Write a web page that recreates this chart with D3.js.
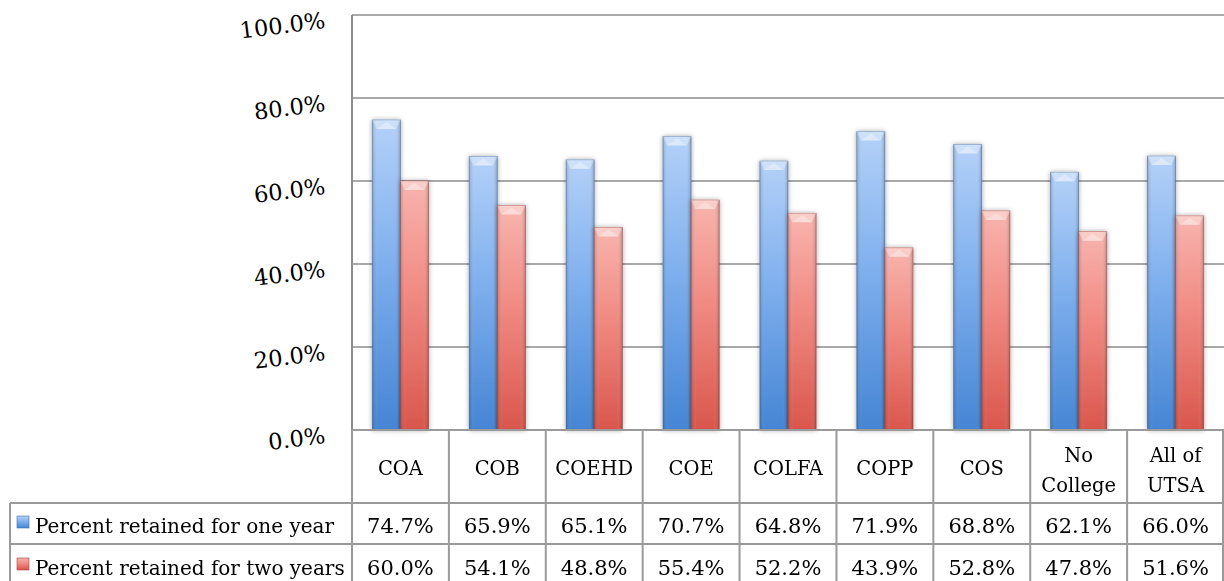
<!DOCTYPE html>
<html><head><meta charset="utf-8">
<script src="https://cdn.jsdelivr.net/npm/d3@7"></script>
<style>body{margin:0;background:#fff}svg{display:block}text{font-family:"DejaVu Serif",serif;fill:#000}</style>
</head><body><svg id="c" width="1224" height="581"></svg>
<script>
const categories = [["COA"],["COB"],["COEHD"],["COE"],["COLFA"],["COPP"],["COS"],["No","College"],["All of","UTSA"]];
const seriesNames = ["Percent retained for one year","Percent retained for two years"];
const oneYear = [74.7,65.9,65.1,70.7,64.8,71.9,68.8,62.1,66.0];
const twoYears = [60.0,54.1,48.8,55.4,52.2,43.9,52.8,47.8,51.6];
const yTicks = [0,20,40,60,80,100];

const svg = d3.select("#c");
const L = 352, R = 1224, T = 15, B = 430;
const x = d3.scaleBand().domain(d3.range(categories.length)).range([L, R]);
const y = d3.scaleLinear().domain([0,100]).range([B, T]);
const inner = d3.scaleBand().domain([0,1]).range([0, x.bandwidth()]).paddingOuter(0.72).paddingInner(0);

const defs = svg.append("defs");
const pal = [
  {id:"gb", top:"#b4d1f8", mid:"#80b0ee", bot:"#4585d4", edge:"#3f6fa8"},
  {id:"gr", top:"#f8b4ae", mid:"#f08a82", bot:"#d9564c", edge:"#a8453d"}
];
pal.forEach(p=>{
  const g = defs.append("linearGradient").attr("id",p.id).attr("x1",0).attr("y1",0).attr("x2",0).attr("y2",1);
  g.append("stop").attr("offset","0%").attr("stop-color",p.top);
  g.append("stop").attr("offset","45%").attr("stop-color",p.mid);
  g.append("stop").attr("offset","100%").attr("stop-color",p.bot);
  const h = defs.append("linearGradient").attr("id",p.id+"h").attr("x1",0).attr("y1",0).attr("x2",1).attr("y2",0);
  h.append("stop").attr("offset","0%").attr("stop-color","#000").attr("stop-opacity",0.18);
  h.append("stop").attr("offset","20%").attr("stop-color","#fff").attr("stop-opacity",0.0);
  h.append("stop").attr("offset","80%").attr("stop-color","#fff").attr("stop-opacity",0.0);
  h.append("stop").attr("offset","100%").attr("stop-color","#000").attr("stop-opacity",0.22);
});
const shadow = defs.append("filter").attr("id","sh").attr("x","-30%").attr("y","-10%").attr("width","160%").attr("height","120%");
shadow.append("feGaussianBlur").attr("in","SourceAlpha").attr("stdDeviation",2.5).attr("result","b");
shadow.append("feOffset").attr("in","b").attr("dx",0).attr("dy",0).attr("result","o");
shadow.append("feComponentTransfer").attr("in","o").attr("result","o2").append("feFuncA").attr("type","linear").attr("slope",0.35);
const m = shadow.append("feMerge"); m.append("feMergeNode").attr("in","o2"); m.append("feMergeNode").attr("in","SourceGraphic");

// gridlines
svg.append("g").selectAll("line").data(yTicks).join("line")
  .attr("x1",L).attr("x2",R).attr("y1",d=>y(d)).attr("y2",d=>y(d))
  .attr("stroke","#8c8c8c").attr("stroke-width",1.5);
svg.append("line").attr("x1",L).attr("x2",L).attr("y1",T).attr("y2",B).attr("stroke","#8c8c8c").attr("stroke-width",2);

// y labels (tilted)
svg.append("g").selectAll("text").data(yTicks).join("text")
  .attr("transform",d=>`translate(${L-26},${y(d)+13}) rotate(-7)`)
  .attr("text-anchor","end").attr("font-size",22.5)
  .text(d=>d3.format(".1f")(d)+"%");

// bars
const series = [oneYear, twoYears];
series.forEach((vals,si)=>{
  const p = pal[si];
  const g = svg.append("g").attr("filter","url(#sh)");
  const bw = inner.bandwidth();
  const bars = g.selectAll("g").data(vals).join("g")
    .attr("transform",(d,i)=>`translate(${x(i)+inner(si)},0)`);
  bars.append("rect").attr("x",0).attr("width",bw).attr("y",d=>y(d)).attr("height",d=>B-y(d))
    .attr("fill",`url(#${p.id})`).attr("stroke",p.edge).attr("stroke-width",0.8).attr("stroke-opacity",0.6);
  bars.append("rect").attr("x",0).attr("width",bw).attr("y",d=>y(d)).attr("height",d=>B-y(d))
    .attr("fill",`url(#${p.id}h)`);
  bars.append("path").attr("d",d=>{const t=y(d);return `M0,${t} L${bw},${t} L${bw*0.85},${t+9} L${bw*0.5},${t+9} L${bw*0.15},${t+9} Z`;})
    .attr("fill","#ffffff").attr("fill-opacity",0.35);
  bars.append("path").attr("d",d=>{const t=y(d);return `M${bw*0.15},${t+9} L${bw*0.5},${t+2} L${bw*0.85},${t+9} Z`;})
    .attr("fill","#fff").attr("fill-opacity",0.3);
});

// data table
const tb = svg.append("g");
const rowY = [430, 503, 544, 590];
const legL = 10;
const stroke = "#9a9a9a";
tb.append("line").attr("x1",L).attr("x2",R).attr("y1",rowY[0]).attr("y2",rowY[0]).attr("stroke",stroke).attr("stroke-width",2);
[1,2].forEach(r=>tb.append("line").attr("x1",legL).attr("x2",R).attr("y1",rowY[r]).attr("y2",rowY[r]).attr("stroke",stroke).attr("stroke-width",2));
const vx = d3.range(categories.length+1).map(i=> i<categories.length ? x(i) : R-1);
tb.selectAll("line.v").data(vx).join("line").attr("class","v")
  .attr("x1",d=>d).attr("x2",d=>d).attr("y1",rowY[0]).attr("y2",rowY[3]).attr("stroke",stroke).attr("stroke-width",2);
tb.append("line").attr("x1",legL).attr("x2",legL).attr("y1",rowY[1]).attr("y2",rowY[3]).attr("stroke",stroke).attr("stroke-width",2);

categories.forEach((c,i)=>{
  const cx = x(i)+x.bandwidth()/2;
  const t = tb.append("text").attr("text-anchor","middle").attr("font-size",19.5).attr("x",cx);
  if(c.length===1){ t.attr("y",475).text(c[0]); }
  else { c.forEach((s,k)=>t.append("tspan").attr("x",cx).attr("y",462+k*30).text(s)); }
});
series.forEach((vals,si)=>{
  const yy = [533,575][si];
  tb.selectAll(null).data(vals).join("text").attr("text-anchor","middle").attr("font-size",21)
    .attr("x",(d,i)=>x(i)+x.bandwidth()/2).attr("y",yy).text(d=>d3.format(".1f")(d)+"%");
  const p = pal[si];
  tb.append("rect").attr("x",17).attr("y",yy-17).attr("width",12).attr("height",12)
    .attr("fill",`url(#${p.id})`).attr("stroke",p.edge).attr("stroke-width",0.6);
  tb.append("text").attr("x",35).attr("y",yy).attr("font-size",20).text(seriesNames[si]);
});
</script></body></html>
